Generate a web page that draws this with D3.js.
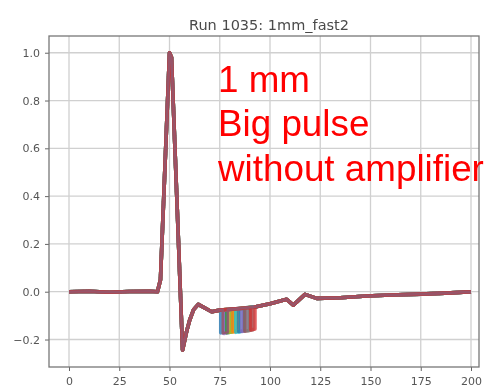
<!DOCTYPE html>
<html><head><meta charset="utf-8">
<script src="https://cdn.jsdelivr.net/npm/d3@7"></script>
<style>body{margin:0;background:#fff;} svg{display:block;}</style>
</head><body>
<script>
// ---- data ----
const title = "Run 1035: 1mm_fast2";
const xTicks = [0, 25, 50, 75, 100, 125, 150, 175, 200];
const yTicks = [-0.2, 0.0, 0.2, 0.4, 0.6, 0.8, 1.0];
// common pulse shape (sample index, normalised amplitude)
const baseX = [0, 10, 20, 30, 40, 44, 45.5, 50, 51, 56.5, 58.5, 60, 62, 64.3, 71, 75];
const baseY = [0.0, 0.002, -0.002, 0.001, 0.002, 0.0, 0.05, 1.0, 0.98, -0.244, -0.167, -0.12, -0.075, -0.053, -0.084, -0.077];
const tailX = [93, 100, 108.3, 111.6, 117.4, 123.2, 135, 148, 160, 175, 190, 200];
const tailY = [-0.063, -0.05, -0.032, -0.056, -0.011, -0.028, -0.025, -0.018, -0.014, -0.01, -0.005, 0.0];
// per-trace secondary dip (start sample, end sample, level before/after, bottom level)
const dipStart = [75.5, 77, 78.5, 80, 81.5, 83, 84.5, 86, 87.5, 89, 90.5, 76.5];
const dipEnd   = [78, 79.5, 81, 82.5, 84, 85.5, 87, 88.5, 90, 91.5, 92.5, 79];
const dipTop   = [-0.077, -0.076, -0.075, -0.074, -0.073, -0.072, -0.071, -0.070, -0.069, -0.068, -0.066, -0.076];
const dipTopEnd= [-0.076, -0.075, -0.074, -0.073, -0.072, -0.071, -0.070, -0.069, -0.068, -0.066, -0.064, -0.075];
const dipLow   = [-0.172, -0.175, -0.172, -0.17, -0.168, -0.17, -0.167, -0.166, -0.165, -0.163, -0.16, -0.174];
const traceColors = ["#1f77b4","#9467bd","#2ca02c","#bcbd22","#ff7f0e","#17becf","#1f77b4","#9467bd","#8c564b","#7f7f7f","#d62728","#94586e"];
const annotation = ["1 mm", "Big pulse", "without amplifier"];

// ---- chart ----
const W = 494, H = 390;
const svg = d3.select("body").append("svg").attr("width", W).attr("height", H);
const L = 49, R = 479, T = 36, B = 367;
const x = d3.scaleLinear().domain([-9.95, 203.98]).range([L, R]);
const y = d3.scaleLinear().domain([-0.315, 1.07]).range([B, T]);

const plot = svg.append("g").style("filter", "blur(0.6px)");
// grid
plot.append("g").selectAll("line").data(xTicks).join("line")
  .attr("x1", d => x(d)).attr("x2", d => x(d)).attr("y1", T).attr("y2", B)
  .attr("stroke", "#d0d0d0").attr("stroke-width", 1.3);
plot.append("g").selectAll("line").data(yTicks).join("line")
  .attr("y1", d => y(d)).attr("y2", d => y(d)).attr("x1", L).attr("x2", R)
  .attr("stroke", "#d0d0d0").attr("stroke-width", 1.3);

// traces
const line = d3.line().x(d => x(d[0])).y(d => y(d[1]));
traceColors.forEach((c, i) => {
  const last = i === traceColors.length - 1;
  const pts = baseX.map((v, k) => [v, baseY[k]]);
  pts.push([dipStart[i], dipTop[i]], [dipStart[i], dipLow[i]], [dipEnd[i], dipLow[i] + 0.004], [dipEnd[i], dipTopEnd[i]]);
  tailX.forEach((v, k) => pts.push([v, tailY[k]]));
  plot.append("path").datum(pts).attr("d", line)
    .attr("fill", "none").attr("stroke", c).attr("stroke-width", last ? 2.6 : 3.6)
    .attr("stroke-linejoin", "round").attr("opacity", last ? 0.9 : 0.75);
});

// axes
const xAxis = plot.append("g").attr("transform", `translate(0,${B})`)
  .call(d3.axisBottom(x).tickValues(xTicks).tickSize(4).tickPadding(6).tickFormat(d3.format("d")));
const yAxis = plot.append("g").attr("transform", `translate(${L},0)`)
  .call(d3.axisLeft(y).tickValues(yTicks).tickSize(4).tickPadding(5).tickFormat(d => d3.format(".1f")(d).replace("-", "\u2212")));
[xAxis, yAxis].forEach(a => {
  a.select(".domain").remove();
  a.selectAll("line").attr("stroke", "#666");
  a.selectAll("text").attr("fill", "#555").style("font-family", "DejaVu Sans").style("font-size", "11px");
});
plot.append("rect").attr("x", L).attr("y", T).attr("width", R - L).attr("height", B - T)
  .attr("fill", "none").attr("stroke", "#777").attr("stroke-width", 1.3);

plot.append("text").attr("x", 269).attr("y", 30).attr("text-anchor", "middle")
  .attr("fill", "#4a4a4a").style("font-family", "DejaVu Sans").style("font-size", "14.5px").text(title);

// annotation
svg.append("g").selectAll("text").data(annotation).join("text")
  .attr("x", 218).attr("y", (d, i) => 91.5 + i * 44.6)
  .attr("fill", "#ff0000").style("font-family", "Liberation Sans, Arial, sans-serif").style("font-size", "36.8px")
  .text(d => d);
</script>
</body></html>
